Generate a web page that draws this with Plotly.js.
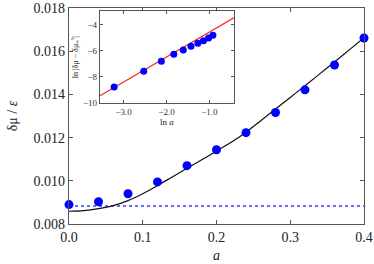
<!DOCTYPE html>
<html>
<head>
<meta charset="utf-8">
<script src="https://cdn.plot.ly/plotly-3.0.1.min.js"></script>
<style>html,body{margin:0;padding:0;background:#fff;}#chart{width:374px;height:264px;}</style>
</head>
<body>
<div id="chart"></div>
<script>
// Main panel: simulation points
const aValues = [0, 0.04, 0.08, 0.12, 0.16, 0.20, 0.24, 0.28, 0.32, 0.36, 0.40];
const dmuValues = [0.00890, 0.00903, 0.00940, 0.00995, 0.01070, 0.01144, 0.01223, 0.01316, 0.01421, 0.01536, 0.01661];
// Main panel: fitted curve
const curveA = [0, 0.02, 0.04, 0.06, 0.08, 0.10, 0.12, 0.14, 0.16, 0.18, 0.20, 0.22, 0.24, 0.26, 0.28, 0.30, 0.32, 0.34, 0.36, 0.38, 0.40];
const curveDmu = [0.00859, 0.00862, 0.00871, 0.00885, 0.00908, 0.00940, 0.00978, 0.01018, 0.01058, 0.01097, 0.01138, 0.01178, 0.01225, 0.01278, 0.01332, 0.01386, 0.01440, 0.01495, 0.01550, 0.01606, 0.01662];
// Main panel: horizontal reference level
const refA = [0, 0.40];
const refDmu = [0.00883, 0.00883];
// Inset: ln a vs ln|dmu - dmu_inf|
const lnA = [-3.22, -2.53, -2.12, -1.83, -1.61, -1.43, -1.27, -1.14, -1.02, -0.92];
const lnDiff = [-8.77, -7.57, -6.82, -6.28, -5.95, -5.67, -5.45, -5.25, -5.04, -4.84];
const fitLnA = [-3.55, -0.43];
const fitLnDiff = [-9.45, -3.50];

const serif = 'Liberation Serif, Times New Roman, serif';
const axisCol = '#555';

const traces = [
  {x: refA, y: refDmu, mode: 'lines', line: {color: '#3a3aff', width: 1.5, dash: 'dot'}, xaxis: 'x', yaxis: 'y', hoverinfo: 'skip'},
  {x: curveA, y: curveDmu, mode: 'lines', line: {color: '#111', width: 1.2, shape: 'spline'}, xaxis: 'x', yaxis: 'y'},
  {x: aValues, y: dmuValues, mode: 'markers', marker: {color: '#0000ff', size: 9}, xaxis: 'x', yaxis: 'y', cliponaxis: false},
  {x: fitLnA, y: fitLnDiff, mode: 'lines', line: {color: '#ff2020', width: 1.1}, xaxis: 'x2', yaxis: 'y2'},
  {x: lnA, y: lnDiff, mode: 'markers', marker: {color: '#0000ff', size: 7}, xaxis: 'x2', yaxis: 'y2'}
];

const common = {
  showline: true, linecolor: axisCol, linewidth: 1.2, mirror: 'ticks',
  ticks: 'inside', tickcolor: axisCol, showgrid: false, zeroline: false,
  ticklabeloverflow: 'allow'
};

const layout = {
  width: 374, height: 264,
  margin: {l: 69, r: 10, t: 8, b: 40},
  paper_bgcolor: '#fff', plot_bgcolor: '#fff',
  showlegend: false,
  font: {family: serif, color: '#222'},
  xaxis: Object.assign({}, common, {
    range: [0, 0.4], dtick: 0.1, tick0: 0, tickformat: '.1f', ticklen: 4,
    tickfont: {size: 14, family: serif, color: '#222'},
    title: {text: '<i>a</i>', font: {size: 14, family: serif}, standoff: 6}
  }),
  yaxis: Object.assign({}, common, {
    range: [0.008, 0.018], dtick: 0.002, tick0: 0.008, tickformat: '.3f', ticklen: 4,
    tickfont: {size: 14, family: serif, color: '#222'},
    title: {text: 'δμ / <i>ε</i>', font: {size: 14, family: serif}, standoff: 12}
  }),
  xaxis2: Object.assign({}, common, {
    domain: [0.105, 0.559], anchor: 'y2',
    range: [-3.55, -0.43], dtick: 1, tick0: -3, tickformat: '.1f', ticklen: 3,
    tickfont: {size: 9, family: serif, color: '#333'},
    title: {text: 'ln <i>a</i>', font: {size: 9, family: serif}, standoff: 2}
  }),
  yaxis2: Object.assign({}, common, {
    domain: [0.56, 0.985], anchor: 'x2',
    range: [-10, -3], dtick: 2, tick0: -10, ticklen: 3,
    tickfont: {size: 9, family: serif, color: '#333'},
    title: {text: 'ln |δμ − δμ<sub>∞</sub><sup>s</sup>|', font: {size: 8, family: serif}, standoff: 3}
  })
};

Plotly.newPlot('chart', traces, layout, {staticPlot: true, displayModeBar: false});
</script>
</body>
</html>
